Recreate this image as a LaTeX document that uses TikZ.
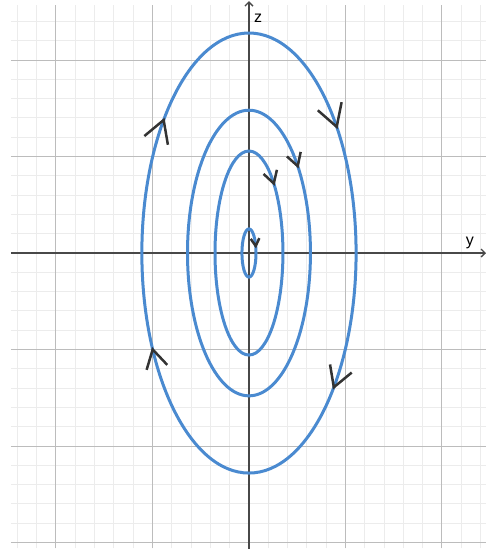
\documentclass[tikz,border=0pt]{standalone}
\usepackage{fontspec}
\setsansfont{Liberation Sans}
\usetikzlibrary{arrows.meta}
\definecolor{orbitblue}{RGB}{74, 138, 208}
\definecolor{minorgray}{RGB}{236, 236, 236}
\definecolor{majorgray}{RGB}{188, 188, 188}
\definecolor{axisgray}{RGB}{72, 72, 72}
\definecolor{markgray}{RGB}{51, 51, 51}

% chevron on the ellipse y = a cos t, z = b sin t, pointing clockwise
% #1 = a, #2 = b, #3 = t (deg), #4 = arm length
\newcommand{\orbitmark}[4]{%
  \pgfmathsetmacro{\mkx}{#1*cos(#3)}%
  \pgfmathsetmacro{\mky}{#2*sin(#3)}%
  \pgfmathsetmacro{\mkdir}{atan2(-#2*cos(#3), #1*sin(#3))}%
  \draw[chevron] (\mkx,\mky) ++({\mkdir+150}:#4) -- (\mkx,\mky) -- ++({\mkdir-150}:#4);
}

\begin{document}
\begin{tikzpicture}[x=96.5pt, y=96.5pt,
  font=\sffamily\fontsize{16}{19}\selectfont,
  minorgrid/.style={draw=minorgray, line width=1pt},
  majorgrid/.style={draw=majorgray, line width=1pt},
  axisline/.style={draw=axisgray, line width=1.3pt, -{Straight Barb[length=4pt, width=8pt]}},
  orbit/.style={draw=orbitblue, line width=3pt},
  chevron/.style={draw=markgray, line width=2.5pt}]

\useasboundingbox (-2.580,-3.067) rectangle (2.456,2.622);

% ============================================================
%  grid
% ============================================================
\draw[minorgrid, step=0.2] (-2.466,-3.06) grid (2.456,2.57);
\draw[majorgrid, step=1] (-2.466,-3.06) grid (2.456,2.57);

% ============================================================
%  axes
% ============================================================
\coordinate (ystart) at (-2.466,0);
\coordinate (yend) at (2.456,0);
\coordinate (zstart) at (0,-3.067);
\coordinate (zend) at (0,2.61);
\draw[axisline] (ystart) -- (yend);
\draw[axisline] (zstart) -- (zend);
\node (ylab) at (2.29,0.10) {y};
\node (zlab) at (0.095,2.435) {z};

% ============================================================
%  orbits  (semi-axes a along y, b along z)
% ============================================================
\foreach \a/\b in {1.11/2.28, 0.637/1.48, 0.352/1.057, 0.073/0.25}
  \draw[orbit] (0,0) ellipse [x radius=\a, y radius=\b];

% ---- direction marks ----
\orbitmark{1.11}{2.28}{142.8}{0.26}
\orbitmark{1.11}{2.28}{35}{0.26}
\orbitmark{1.11}{2.28}{206}{0.22}
\orbitmark{1.11}{2.28}{-37.6}{0.24}
\orbitmark{0.637}{1.48}{37.5}{0.15}
\orbitmark{0.352}{1.057}{43}{0.145}
\orbitmark{0.073}{0.25}{17}{0.09}

\end{tikzpicture}
\end{document}
